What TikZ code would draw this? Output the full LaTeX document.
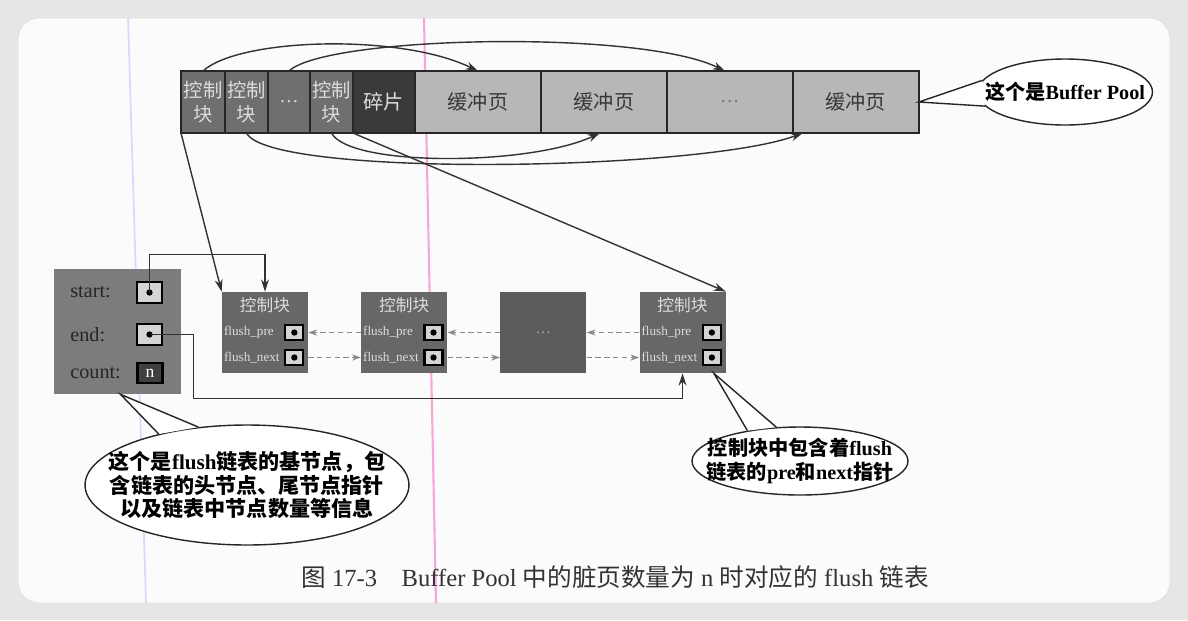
\documentclass[tikz,border=0pt]{standalone}
\usepackage{fontspec}
\setmainfont{Liberation Serif}
\newfontfamily\cjk{Noto Sans CJK SC}
\usetikzlibrary{positioning,calc,arrows.meta,shapes.geometric}
\newcommand\zh[1]{{\cjk #1}}

\definecolor{frame}{HTML}{E6E6E6}
\definecolor{paper}{HTML}{FBFBFB}
\definecolor{ctlfill}{HTML}{6F6F6F}
\definecolor{ctltext}{HTML}{DCDCDC}
\definecolor{fragfill}{HTML}{3A3A3A}
\definecolor{buffill}{HTML}{B7B7B7}
\definecolor{buftext}{HTML}{383838}
\definecolor{blkfill}{HTML}{676767}
\definecolor{blkdark}{HTML}{5C5C5C}
\definecolor{basefill}{HTML}{7C7C7C}
\definecolor{slotfill}{HTML}{D4D4D4}
\definecolor{linkgray}{HTML}{8A8A8A}

\tikzset{
  cell/.style={draw=black!85, line width=1pt, inner sep=0pt, outer sep=0pt, minimum height=1.24cm},
  ctl/.style={cell, fill=ctlfill, text=ctltext, minimum width=0.86cm, align=center, font=\cjk\fontsize{11}{14}\selectfont},
  buf/.style={cell, fill=buffill, text=buftext, minimum width=2.52cm, font=\cjk\fontsize{11.5}{14}\selectfont},
  blk/.style={fill=blkfill, minimum width=1.72cm, minimum height=1.62cm, inner sep=0pt},
  blktitle/.style={text=ctltext, inner sep=0pt, font=\cjk\fontsize{9.5}{10}\selectfont},
  fld/.style={anchor=west, inner sep=0pt, text=ctltext, font=\fontsize{7.5}{8}\selectfont},
  slot/.style={draw=black, line width=1.3pt, fill=slotfill, minimum width=0.36cm, minimum height=0.3cm, inner sep=0pt,
    path picture={\fill[black] (path picture bounding box.center) circle (1.8pt);}},
  basebox/.style={fill=basefill, minimum width=2.54cm, minimum height=2.5cm, inner sep=0pt},
  baselbl/.style={anchor=west, inner sep=0pt, text=black!85, font=\fontsize{11.5}{12}\selectfont},
  hop/.style={line width=0.8pt, draw=black!80, -{Stealth[length=7pt, width=4.5pt]}},
  wire/.style={line width=0.8pt, draw=black!80, -{Stealth[length=7pt, width=4.5pt]}},
  listlink/.style={densely dashed, line width=0.7pt, draw=linkgray, -{Stealth[length=5pt, width=3.5pt]}},
  bubble/.style={ellipse, draw=black!85, line width=0.8pt, fill=white, inner sep=0pt},
  bubtext/.style={align=center, inner sep=0pt, font=\bfseries\fontsize{12}{13.6}\selectfont},
  node distance=1.05cm
}

\begin{document}
\begin{tikzpicture}[x=0.02cm, y=-0.02cm]
  \fill[frame] (0,0) rectangle (1188,620);
  \useasboundingbox (0,0) rectangle (1188,620);
  \filldraw[fill=paper, draw=black!12, rounded corners=12] (18,18) rectangle (1170,603);
  \draw[blue!15, line width=1pt] (128,18) -- (146,603);
  \draw[magenta!35, line width=1.2pt] (424,18) -- (436,603);

  \node[ctl, minimum width=0.88cm] (c1) at (203,102) {控制\\块};
  \node[ctl, right=0pt of c1] (c2) {控制\\块};
  \node[ctl, right=0pt of c2, minimum width=0.84cm, font=\fontsize{11}{14}\selectfont] (c3) {\dots};
  \node[ctl, right=0pt of c3] (c4) {控制\\块};
  \node[cell, right=0pt of c4, fill=fragfill, text=ctltext, minimum width=1.24cm, font=\cjk\fontsize{11.5}{14}\selectfont] (frag) {碎片};
  \node[buf, right=0pt of frag] (b1) {缓冲页};
  \node[buf, right=0pt of b1] (b2) {缓冲页};
  \node[buf, right=0pt of b2, text=black!55, font=\fontsize{11}{14}\selectfont] (bd) {\dots};
  \node[buf, right=0pt of bd] (b3) {缓冲页};

  \draw[hop] (c1.north) .. controls ($(c1.north)+(36,-33)$) and ($(b1.north)+(-78,-38)$) .. (b1.north);
  \draw[hop] (c3.north) .. controls ($(c3.north)+(37,-35)$) and ($(bd.north)+(-90,-42)$) .. ($(bd.north)+(-5,0)$);
  \draw[hop] (c2.south) .. controls ($(c2.south)+(23,45)$) and ($(b3.south)+(-155,38)$) .. ($(b3.south)+(-53,0)$);
  \draw[hop] (c4.south) .. controls ($(c4.south)+(18,34)$) and ($(b2.south)+(-74,33)$) .. ($(b2.south)+(-4,0)$);

  \node[blk] (n1) at (265,332.5) {};
  \node[blk, right=of n1] (n2) {};
  \node[blk, right=of n2, fill=blkdark, text=black!35, font=\fontsize{9}{10}\selectfont] (n3) {\dots};
  \node[blk, right=of n3] (n4) {};

  \node[blktitle] (t1) at ($(n1.north)+(0,14)$) {控制块};
  \node[fld] (lp1) at ($(n1.west)+(2,0)$) {flush\_pre};
  \node[fld] (lx1) at ($(n1.west)+(2,25)$) {flush\_next};
  \node[slot] (p1) at ($(n1.east)+(-14,0)$) {};
  \node[slot] (x1) at ($(n1.east)+(-14,25)$) {};

  \node[blktitle] (t2) at ($(n2.north)+(0,14)$) {控制块};
  \node[fld] (lp2) at ($(n2.west)+(2,0)$) {flush\_pre};
  \node[fld] (lx2) at ($(n2.west)+(2,25)$) {flush\_next};
  \node[slot] (p2) at ($(n2.east)+(-14,0)$) {};
  \node[slot] (x2) at ($(n2.east)+(-14,25)$) {};

  \node[blktitle] (t4) at ($(n4.north)+(0,14)$) {控制块};
  \node[fld] (lp4) at ($(n4.west)+(2,0)$) {flush\_pre};
  \node[fld] (lx4) at ($(n4.west)+(2,25)$) {flush\_next};
  \node[slot] (p4) at ($(n4.east)+(-14,0)$) {};
  \node[slot] (x4) at ($(n4.east)+(-14,25)$) {};

  \node[basebox] (bn) at (117.5,331.5) {};
  \node[baselbl] (ls) at (70,292) {start:};
  \node[baselbl] (le) at (70,335) {end:};
  \node[baselbl] (lc) at (70,373) {count:};
  \node[slot, minimum width=0.5cm, minimum height=0.42cm] (sp) at (149.5,292.5) {};
  \node[slot, minimum width=0.5cm, minimum height=0.42cm] (ep) at (149.5,334.5) {};
  \node[draw=black, line width=1.3pt, fill=black!75, text=white, minimum width=0.5cm, minimum height=0.4cm,
    inner sep=0pt, font=\fontsize{10}{10}\selectfont] (cp) at (150,373) {n};

  \draw[listlink] (n2.west |- p1) -- (n1.east |- p1);
  \draw[listlink] (n1.east |- x1) -- (n2.west |- x1);
  \draw[listlink] (n3.west |- p2) -- (n2.east |- p2);
  \draw[listlink] (n2.east |- x2) -- (n3.west |- x2);
  \draw[listlink] (n4.west |- p4) -- (n3.east |- p4);
  \draw[listlink] (n3.east |- x4) -- (n4.west |- x4);

  \draw[wire] (sp.center) -- ++(0,-38) -| (n1.north);
  \draw[wire] (ep.center) -- ++(44,0) -- ++(0,64) -| (n4.south);
  \draw[wire] (c1.south west) -- (n1.north west);
  \draw[wire] (c4.south east) -- (n4.north east);

  \node[bubble, minimum width=3.5cm, minimum height=1.32cm] (pool) at (1065,92) {};
  \fill[white] (b3.east) -- (pool.172) -- (pool.190) -- cycle;
  \draw[black!85, line width=0.8pt] (pool.172) -- (b3.east) -- (pool.190);
  \node[bubtext, font=\bfseries\fontsize{11.5}{13}\selectfont] (pooltext) at (pool.center) {\zh{这个是}Buffer Pool};

  \coordinate (ltip) at ($(bn.south)+(3,0)$);
  \node[bubble, minimum width=6.48cm, minimum height=2.4cm] (basenote) at (247,485) {};
  \fill[white] (ltip) -- (basenote.150) -- (basenote.130) -- cycle;
  \draw[black!85, line width=0.8pt] (basenote.150) -- (ltip) -- (basenote.130);
  \node[bubtext] (basetext) at (basenote.center)
    {\zh{这个是}flush\zh{链表的基节点，包}\\\zh{含链表的头节点、尾节点指针}\\\zh{以及链表中节点数量等信息}};

  \coordinate (rtip) at ($(n4.south east)+(-12,0)$);
  \node[bubble, minimum width=4.32cm, minimum height=1.36cm] (ctlnote) at (800,461) {};
  \fill[white] (rtip) -- (ctlnote.150) -- (ctlnote.125) -- cycle;
  \draw[black!85, line width=0.8pt] (ctlnote.150) -- (rtip) -- (ctlnote.125);
  \node[bubtext, font=\bfseries\fontsize{11.5}{13.6}\selectfont] (ctltext) at (ctlnote.center)
    {\zh{控制块中包含着}flush\\\zh{链表的}pre\zh{和}next\zh{指针}};

  \node[text=black!80, font=\fontsize{14}{16}\selectfont] (cap) at (615,577)
    {\zh{图} 17-3\quad Buffer Pool \zh{中的脏页数量为} n \zh{时对应的} flush \zh{链表}};
\end{tikzpicture}
\end{document}
